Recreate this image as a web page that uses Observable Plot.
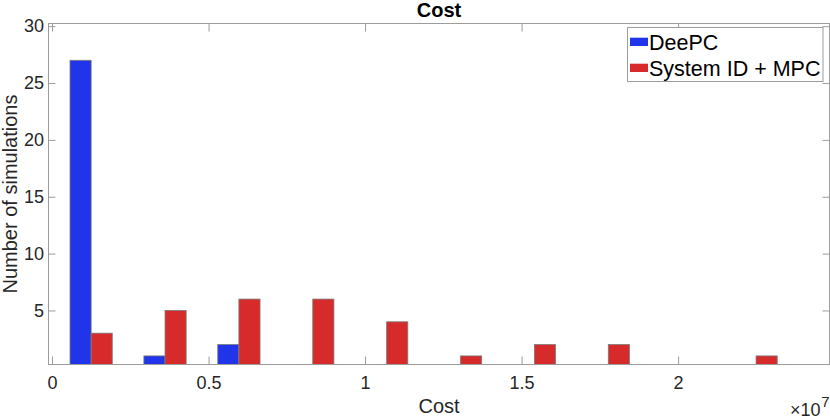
<!DOCTYPE html>
<html><head><meta charset="utf-8">
<script src="https://cdn.jsdelivr.net/npm/d3@7"></script>
<script src="https://cdn.jsdelivr.net/npm/@observablehq/plot@0.6"></script>
<style>body{margin:0;background:#fff} #chart{width:830px;height:417px}</style>
</head><body><div id="chart"></div>
<script>
// Histogram bin centers, in units of 10^7
const binCenters = [0.125, 0.361, 0.597, 0.833, 1.069, 1.305, 1.541, 1.777, 2.013, 2.249];
const deepcCounts = [27, 1, 2, 0, 0, 0, 0, 0, 0, 0];
const sysidCounts = [3, 5, 6, 6, 4, 1, 2, 2, 0, 1];
const seriesNames = ["DeePC", "System ID + MPC"];
const seriesColors = ["#2035ea", "#d72a2b"];
const xTicks = [0, 0.5, 1, 1.5, 2];
const yTicks = [5, 10, 15, 20, 25, 30];

const halfWidth = 0.0675; // width of one bar within a bin group
const bars = [];
binCenters.forEach((c, i) => {
  bars.push({series: seriesNames[0], x1: c - halfWidth, x2: c, count: deepcCounts[i]});
  bars.push({series: seriesNames[1], x1: c, x2: c + halfWidth, count: sysidCounts[i]});
});
const visibleBars = bars.filter(d => d.count > 0);

const lineColor = "#9c9c9c";
const textColor = "#262626";

const plot = Plot.plot({
  width: 830, height: 417,
  marginLeft: 48, marginRight: 1, marginTop: 23, marginBottom: 53,
  style: {fontFamily: "Liberation Sans, Arial, sans-serif", color: textColor, background: "#fff"},
  x: {domain: [-0.0128, 2.482]},
  y: {domain: [0.29, 30.28]},
  color: {domain: seriesNames, range: seriesColors},
  marks: [
    Plot.rectY(visibleBars, {x1: "x1", x2: "x2", y1: () => 0, y2: "count", fill: "series",
      stroke: "#7a7a7a", strokeWidth: 0.8, clip: true}),
    Plot.frame({stroke: lineColor}),
    Plot.axisX(xTicks, {anchor: "bottom", tickSize: -7.5, tickPadding: 18.9, tickFormat: d => String(d),
      fontSize: 18, stroke: lineColor, fill: textColor, label: null}),
    Plot.axisX(xTicks, {anchor: "top", tickSize: -7.5, tickFormat: () => "", stroke: lineColor, label: null}),
    Plot.axisY(yTicks, {anchor: "left", tickSize: -7.5, tickPadding: 11.9, tickFormat: d => String(d),
      fontSize: 18, stroke: lineColor, fill: textColor, label: null}),
    Plot.axisY(yTicks, {anchor: "right", tickSize: -7.5, tickFormat: () => "", stroke: lineColor, label: null}),
    Plot.text(["Cost"], {text: d => d, frameAnchor: "top", dy: -6.5, lineAnchor: "bottom",
      fontSize: 20, fontWeight: "bold", fill: "#000"}),
    Plot.text(["Cost"], {text: d => d, frameAnchor: "bottom", dy: 48.5, lineAnchor: "bottom",
      fontSize: 20, fill: textColor}),
    Plot.text(["Number of simulations"], {text: d => d, frameAnchor: "left", dx: -31.3, rotate: -90,
      textAnchor: "middle", lineAnchor: "bottom", fontSize: 20, fill: textColor}),
    Plot.text(["×10"], {text: d => d, frameAnchor: "bottom-right", dx: -9, dy: 51, lineAnchor: "bottom",
      textAnchor: "end", fontSize: 18, fill: textColor}),
    Plot.text(["7"], {text: d => d, frameAnchor: "bottom-right", dx: 0, dy: 42, lineAnchor: "bottom",
      textAnchor: "end", fontSize: 15, fill: textColor})
  ]
});

// Legend box inside the top-right corner of the axes
const svg = d3.select(plot);
const lg = svg.append("g").attr("font-family", "Liberation Sans, Arial, sans-serif")
  .attr("text-anchor", "start");
lg.append("rect").attr("x", 627.5).attr("y", 27.5).attr("width", 195.5).attr("height", 54)
  .attr("fill", "#fff").attr("stroke", lineColor);
seriesNames.forEach((name, i) => {
  lg.append("rect").attr("x", 630).attr("y", 37.7 + 26 * i).attr("width", 18).attr("height", 8.3)
    .attr("fill", seriesColors[i]);
  lg.append("text").attr("x", 649).attr("y", 50 + 26 * i).attr("font-size", 21.5)
    .attr("text-anchor", "start").attr("fill", "#000").text(name);
});

document.getElementById("chart").appendChild(plot);
</script>
</body></html>
